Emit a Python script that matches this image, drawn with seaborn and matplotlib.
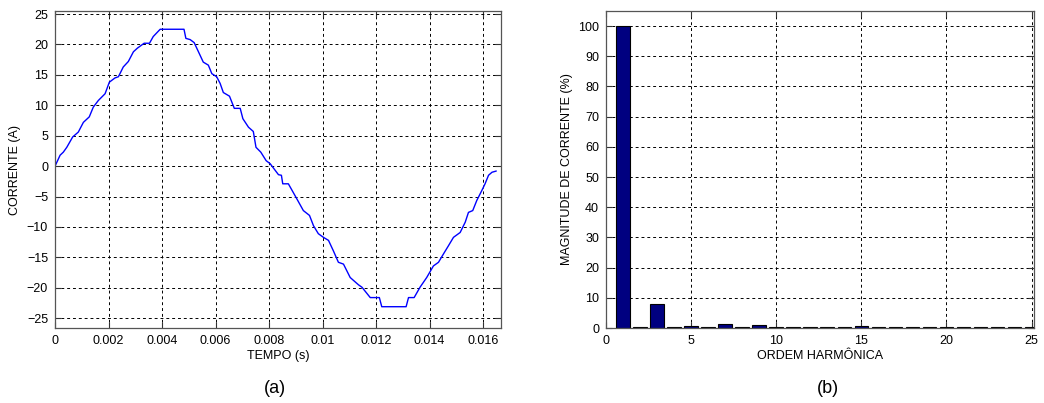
import numpy as np
import pandas as pd
import matplotlib
matplotlib.use("Agg")
import matplotlib.pyplot as plt
import seaborn as sns

# (a) current waveform
tempo = [0.0, 0.00019, 0.00031, 0.00044, 0.00066, 0.00087, 0.00106, 0.00128, 0.00143,
         0.00162, 0.00187, 0.00203, 0.00224, 0.00237, 0.00255, 0.00274, 0.00293, 0.00308,
         0.00333, 0.00353, 0.00367, 0.00393, 0.00482, 0.00489, 0.00505, 0.0052, 0.00536,
         0.00554, 0.00573, 0.00586, 0.00604, 0.00617, 0.00629, 0.00652, 0.0067, 0.00692,
         0.00702, 0.00723, 0.00741, 0.00751, 0.00769, 0.00789, 0.00804, 0.00835, 0.00846,
         0.00851, 0.00872, 0.00904, 0.00928, 0.00951, 0.00966, 0.00984, 0.01003, 0.01022,
         0.0104, 0.01059, 0.01078, 0.01103, 0.01134, 0.01147, 0.01178, 0.01212, 0.01221,
         0.01312, 0.01321, 0.01342, 0.01364, 0.01389, 0.01414, 0.01433, 0.01452, 0.0147,
         0.01489, 0.01514, 0.01533, 0.01545, 0.01561, 0.01576, 0.01595, 0.01607, 0.0162,
         0.01633, 0.01649]
corrente = [0.0, 1.8, 2.3, 3.1, 4.8, 5.6, 7.2, 8.1, 9.7,
            10.8, 11.9, 13.8, 14.5, 14.7, 16.3, 17.2, 18.8, 19.4,
            20.2, 20.2, 21.3, 22.5, 22.5, 21.0, 20.8, 20.3, 18.8,
            17.1, 16.6, 15.2, 14.7, 13.6, 12.1, 11.5, 9.5, 9.5,
            7.8, 6.4, 5.7, 3.1, 2.3, 0.9, 0.4, -1.4, -1.5,
            -2.9, -2.9, -5.4, -7.3, -8.1, -9.8, -11.1, -11.7, -12.2,
            -13.9, -15.8, -16.1, -18.3, -19.5, -19.9, -21.6, -21.6, -23.1,
            -23.1, -21.6, -21.6, -19.9, -18.3, -16.4, -15.8, -14.4, -13.1,
            -11.7, -10.9, -9.2, -7.6, -7.3, -5.65, -4.0, -2.9, -1.5,
            -1.0, -0.8]

# (b) harmonic spectrum
ordem = list(range(1, 26))
magnitude = [100, 0.25, 7.9, 0.25, 0.55, 0.25, 1.4, 0.25, 0.9, 0.25,
             0.45, 0.45, 0.25, 0.45, 0.8, 0.25, 0.25, 0.25, 0.25, 0.45,
             0.25, 0.25, 0.25, 0.25, 0.45]

sns.set_style("white")
plt.rcParams["font.family"] = ["Liberation Sans", "DejaVu Sans"]
plt.rcParams["font.size"] = 9
plt.rcParams["text.color"] = "black"
plt.rcParams["axes.labelcolor"] = "black"

fig = plt.figure(figsize=(10.44, 4.03), dpi=100)
ax1 = fig.add_axes([0.0527, 0.1861, 0.4272, 0.7866])
ax2 = fig.add_axes([0.5805, 0.1861, 0.41, 0.7866])

df_a = pd.DataFrame({"t": tempo, "i": corrente})
sns.lineplot(data=df_a, x="t", y="i", ax=ax1, color="#0000ff", linewidth=1.0,
             estimator=None, sort=False)
ax1.set_xlim(0, 1 / 60)
ax1.set_ylim(-26.6, 25.5)
ax1.set_xticks([0, 0.002, 0.004, 0.006, 0.008, 0.01, 0.012, 0.014, 0.016])
ax1.set_xticklabels(["0", "0.002", "0.004", "0.006", "0.008", "0.01", "0.012", "0.014", "0.016"])
ax1.set_yticks(range(-25, 26, 5))
ax1.set_xlabel("TEMPO (s)", labelpad=2)
ax1.set_ylabel("CORRENTE (A)", labelpad=4)

df_b = pd.DataFrame({"h": ordem, "m": magnitude})
sns.barplot(data=df_b, x="h", y="m", ax=ax2, native_scale=True, width=0.8,
            color="#000080", saturation=1, edgecolor="black", linewidth=0.8)
ax2.set_xlim(0, 25.15)
ax2.set_ylim(0, 105)
ax2.set_xticks([0, 5, 10, 15, 20, 25])
ax2.set_xticklabels(["0", "5", "10", "15", "20", "25"])
ax2.set_yticks(range(0, 101, 10))
ax2.set_xlabel("ORDEM HARMÔNICA", labelpad=2)
ax2.set_ylabel("MAGNITUDE DE CORRENTE (%)", labelpad=4)

for ax in (ax1, ax2):
    ax.grid(True, color="black", linestyle=(0, (3, 3)), linewidth=0.7)
    ax.set_axisbelow(True)
    ax.tick_params(direction="in", length=4, width=0.8, bottom=True, left=True,
                   top=True, right=True, colors="#333333",
                   labelcolor="black", labelsize=9, pad=5)
    for s in ax.spines.values():
        s.set_color("#555555")
        s.set_linewidth(0.9)

fig.text(0.263, 0.037, "(a)", ha="center", va="center", fontsize=13)
fig.text(0.793, 0.037, "(b)", ha="center", va="center", fontsize=13)

fig.savefig("out.png", dpi=100)
